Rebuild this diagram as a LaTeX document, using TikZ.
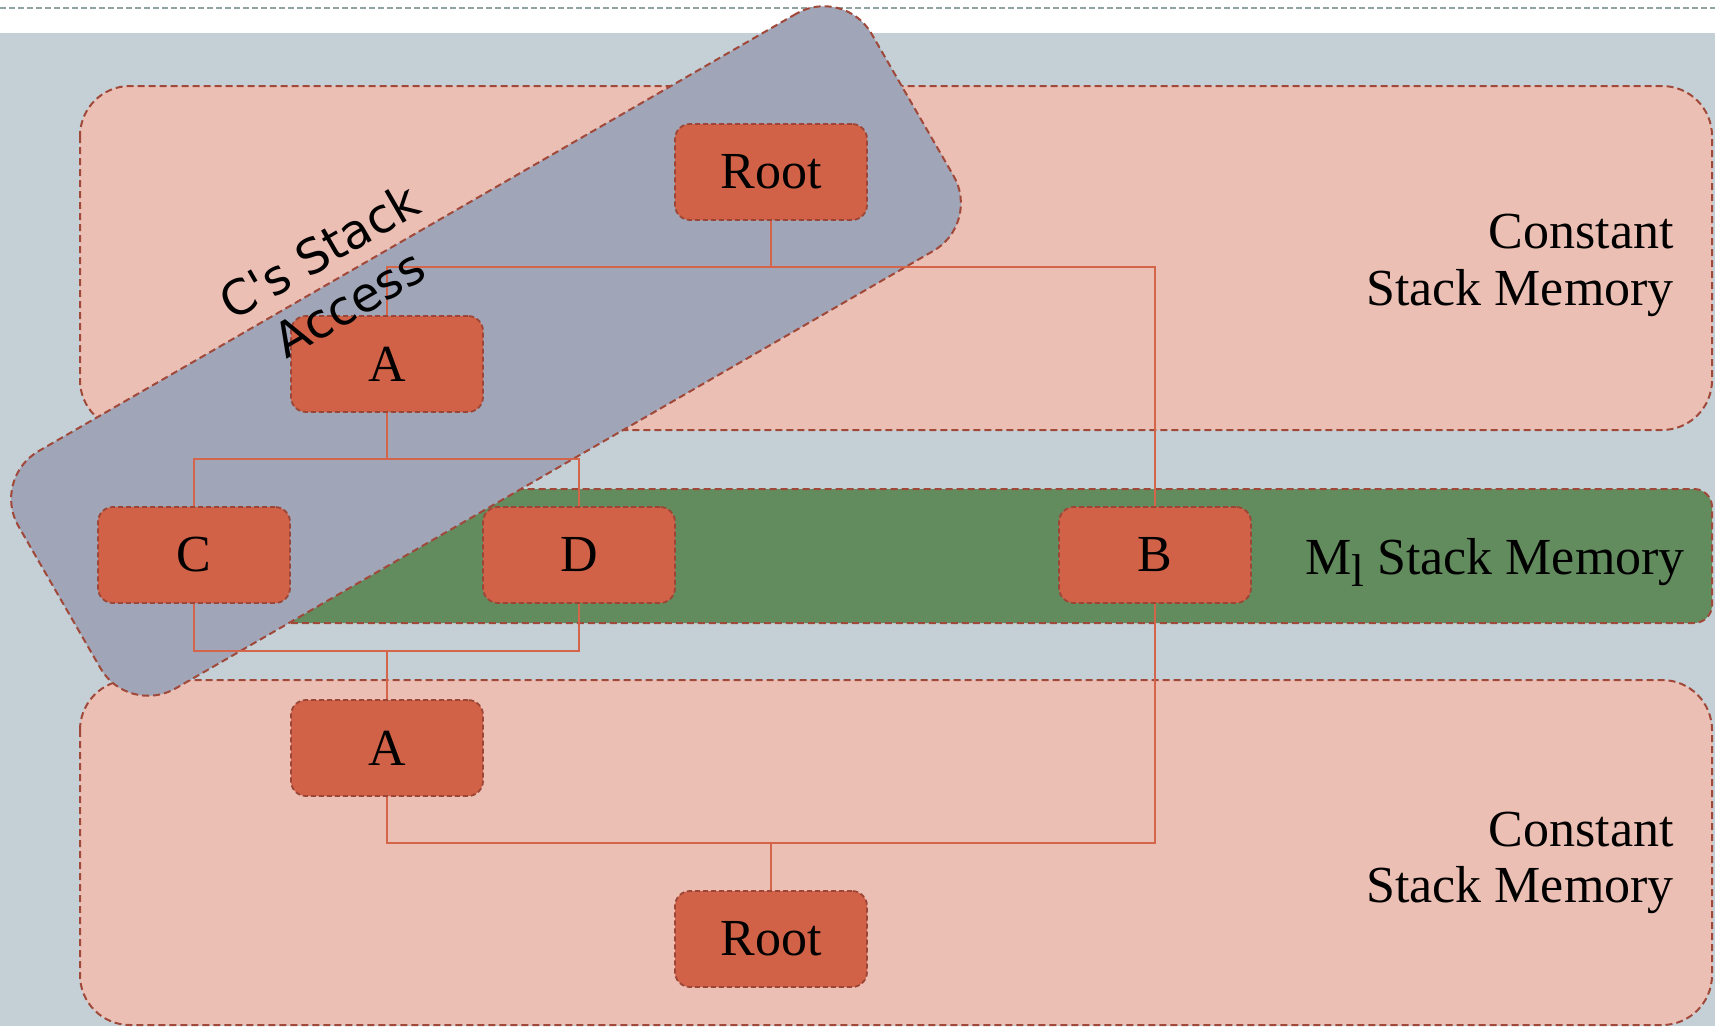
\documentclass[tikz,border=0pt]{standalone}
\usepackage{fontspec}
\setmainfont{Liberation Serif}
\newfontfamily\accessfont{DejaVu Sans}
\definecolor{backcol}{HTML}{C5D0D6}
\definecolor{pinkfill}{HTML}{ECBFB4}
\definecolor{regionedge}{HTML}{A0493A}
\definecolor{greenfill}{HTML}{628C5E}
\definecolor{bluefill}{HTML}{A0A5B7}
\definecolor{callfill}{HTML}{D16248}
\definecolor{calledge}{HTML}{9B4636}
\definecolor{linkcol}{HTML}{D4644A}
\definecolor{rulecol}{HTML}{8FA3A3}
\pgfdeclarelayer{regions}
\pgfdeclarelayer{links}
\pgfsetlayers{regions,links,main}
\begin{document}
\begin{tikzpicture}[x=1pt,y=-1pt,
  region/.style={draw=regionedge, line width=2pt, dash pattern=on 7pt off 4pt, rounded corners=50pt},
  call/.style={draw=calledge, fill=callfill, line width=1.8pt, dash pattern=on 5pt off 3pt,
    rounded corners=15pt, minimum width=192pt, minimum height=96pt, inner sep=0pt,
    font=\fontsize{52}{62}\selectfont},
  link/.style={draw=linkcol, line width=2pt},
  memlabel/.style={anchor=base east, inner sep=0pt, font=\fontsize{52}{62}\selectfont}]

\useasboundingbox (0,0) rectangle (1715,1026);

% memory regions and the access window
\begin{pgfonlayer}{regions}
  \fill[white] (0,0) rectangle (1715,1026);
  \draw[rulecol, line width=1.5pt, dash pattern=on 6pt off 3pt] (0,8) -- (1715,8);
  \fill[backcol] (0,33) rectangle (1715,1026);
  \draw[region, fill=pinkfill] (80,86) rectangle (1712,430);
  \draw[region, fill=pinkfill] (80,680) rectangle (1712,1025);
  \draw[region, fill=greenfill, rounded corners=18pt] (80,489) rectangle (1712,623);
  \node[region, fill=bluefill, rotate=30, minimum width=985pt, minimum height=274pt,
        rounded corners=55pt, inner sep=0pt] (access) at (486,351) {};
\end{pgfonlayer}

% call frames
\node[call] (rootT) at (771,172) {Root};
\node[call] (aT) at (387,364) {A};
\node[call] (c) at (194,555) {C};
\node[call] (d) at (579,555) {D};
\node[call] (b) at (1155,555) {B};
\node[call] (aB) at (387,748) {A};
\node[call] (rootB) at (771,939) {Root};

% region labels
\node[memlabel] (constT1) at (1674,248) {Constant};
\node[memlabel] (constT2) at (1674,305) {Stack Memory};
\node[memlabel] (constB1) at (1674,846) {Constant};
\node[memlabel] (constB2) at (1674,902) {Stack Memory};
\node[memlabel] (mlabel) at (1685,574) {M\raisebox{-12pt}{\fontsize{46}{50}\selectfont l} Stack Memory};
\node[rotate=30, align=center, inner sep=0pt, font=\accessfont\fontsize{48}{60}\selectfont]
  (accesslabel) at (334,277) {C's Stack\\Access};

% call tree connectors
\begin{pgfonlayer}{links}
  \coordinate (j1) at (771,267);
  \coordinate (j2) at (387,459);
  \coordinate (j3) at (387,651);
  \coordinate (j4) at (771,843);
  \draw[link] (rootT.south) -- (j1);
  \draw[link] (aT.north) |- (j1) -| (b.north);
  \draw[link] (aT.south) -- (j2);
  \draw[link] (c.north) |- (j2) -| (d.north);
  \draw[link] (c.south) |- (j3) -| (d.south);
  \draw[link] (j3) -- (aB.north);
  \draw[link] (aB.south) |- (j4) -| (b.south);
  \draw[link] (j4) -- (rootB.north);
\end{pgfonlayer}
\end{tikzpicture}
\end{document}
